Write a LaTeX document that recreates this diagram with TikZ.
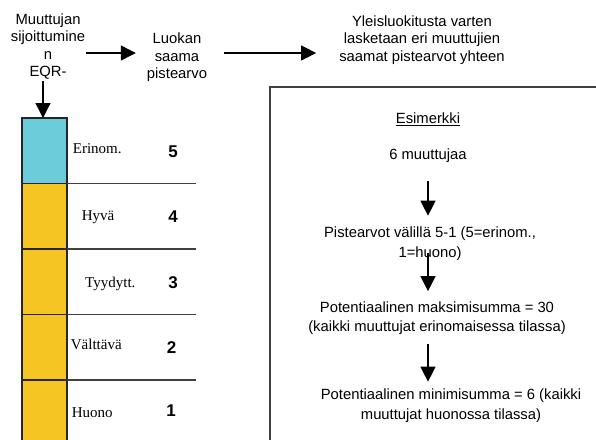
\documentclass[tikz,border=0pt]{standalone}
\usepackage{fontspec}
\setmainfont{Liberation Sans}
\newfontfamily\timesfont{Liberation Serif}
\usetikzlibrary{arrows.meta,positioning}
\definecolor{scaleblue}{RGB}{108,204,217}
\definecolor{scaleyellow}{RGB}{245,198,35}
\begin{document}
\begin{tikzpicture}[x=1pt, y=-1pt, node distance={0pt},
        txt/.style = {align=center, inner sep=1pt, font=\fontsize{14.8}{17.6}\selectfont},
        box/.style = {align=center, inner sep=1pt, font=\fontsize{14.8}{19.5}\selectfont},
        cell/.style = {draw=black!85, line width=1.6pt, outer sep=0pt, minimum width=45pt, minimum height=65.5pt, inner sep=0pt},
        grade/.style = {anchor=base west, inner sep=0pt, font=\timesfont\fontsize{15}{16}\selectfont},
        score/.style = {anchor=base, inner sep=0pt, font=\bfseries\fontsize{17}{18}\selectfont},
        rule/.style = {draw=black!75, line width=1.3pt},
        arr/.style = {-{Triangle[length=15pt, width=15pt]}, line width=1.3pt}]
            \useasboundingbox (0,0) rectangle (596,439);
            \node[txt] (muut) at (48,46.5) {Muuttujan\\sijoittumine\\n\\EQR-};
            \node[txt] (luokan) at (177,57.5) {Luokan\\saama\\pistearvo};
            \node[txt] (yleis) at (422,40) {Yleisluokitusta varten\\lasketaan eri muuttujien\\saamat pistearvot yhteen};
            \node[cell, fill=scaleblue] (c5) at (44.5,150.75) {};
            \node[cell, fill=scaleyellow] (c4) [below=of c5] {};
            \node[cell, fill=scaleyellow] (c3) [below=of c4] {};
            \node[cell, fill=scaleyellow] (c2) [below=of c3] {};
            \node[cell, fill=scaleyellow] (c1) [below=of c2] {};
            \foreach \i in {5,4,3,2}
                \draw[rule] (c\i.south east) -- ++(129,0);
            \node[grade] (g5) at (72.7,153) {Erinom.};
            \node[grade] (g4) at (81.7,220) {Hyvä};
            \node[grade] (g3) at (85,287) {Tyydytt.};
            \node[grade] (g2) at (70.7,349) {Välttävä};
            \node[grade] (g1) at (71.7,417) {Huono};
            \node[score] (s5) at (173,157) {5};
            \node[score] (s4) at (173,222) {4};
            \node[score] (s3) at (173,288) {3};
            \node[score] (s2) at (171.7,353) {2};
            \node[score] (s1) at (171,416) {1};
            \draw[rule] (270,87) rectangle (620,470);
            \node[box] (esim) at (428,119) {\underline{Esimerkki}};
            \node[box] (six) at (428,156) {6 muuttujaa};
            \node[box] (piste) at (430,243.5) {Pistearvot välillä 5-1 (5=erinom.,\\1=huono)};
            \node[box] (maks) at (437,318) {Potentiaalinen maksimisumma = 30\\(kaikki muuttujat erinomaisessa tilassa)};
            \node[box] (mini) at (451,405.5) {Potentiaalinen minimisumma = 6 (kaikki\\muuttujat huonossa tilassa)};
            \draw[arr] (muut.south -| 43,0) -- (c5.north -| 43,0);
            \draw[arr, shorten >=10pt] ([yshift=4.5pt]muut.east |- luokan.west) -- ([yshift=4.5pt]luokan.west);
            \draw[arr, shorten <=16pt, shorten >=22pt] ([yshift=4.5pt]luokan.east) -- ([yshift=4.5pt]yleis.west |- luokan.east);
            \draw[arr, shorten <=17pt, shorten >=10pt] (six.south) -- (six.south |- piste.north);
            \draw[arr, shorten <=-8pt, shorten >=9pt] (six.south |- piste.south) -- (six.south |- maks.north);
            \draw[arr, shorten <=8pt, shorten >=6pt] (six.south |- maks.south) -- (six.south |- mini.north);
        \end{tikzpicture}
\end{document}
